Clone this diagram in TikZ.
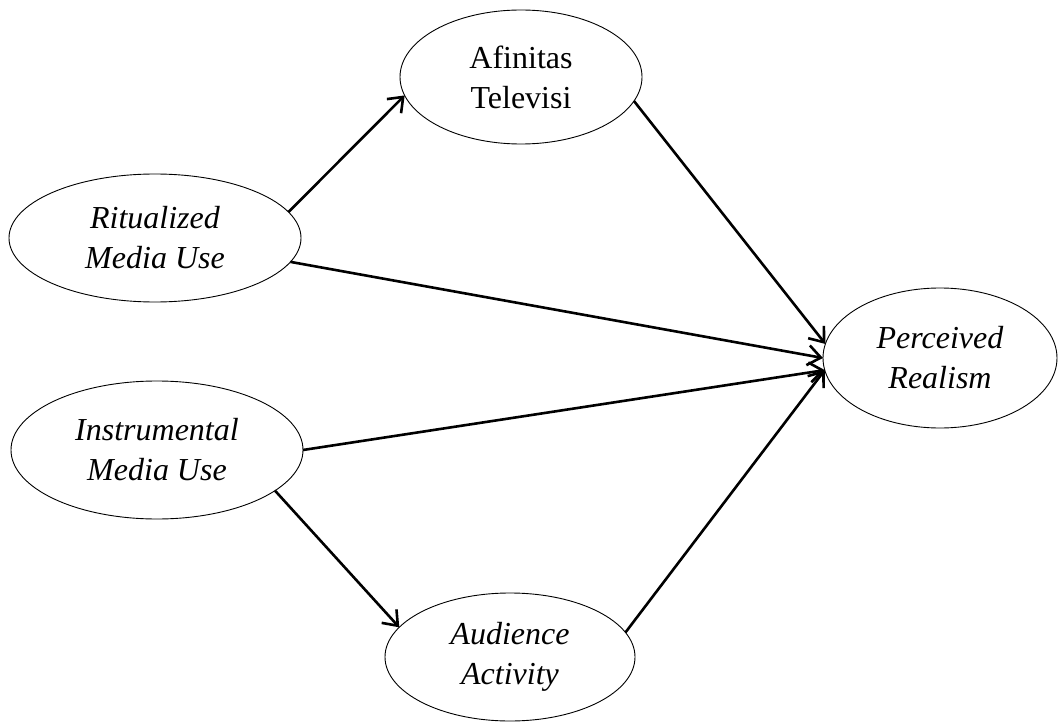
\documentclass[tikz,border=0pt]{standalone}
\usepackage{fontspec}
\setmainfont{Liberation Serif}
\usetikzlibrary{shapes.geometric,arrows.meta}
\begin{document}
\begin{tikzpicture}[x=1pt,y=-1pt,
  construct/.style={ellipse,draw,line width=0.9pt,inner sep=0pt,outer sep=0pt,
    align=center,font=\fontsize{32}{40}\selectfont},
  path/.style={line width=2.6pt,-{Straight Barb[length=13pt,width=20pt,line width=2.6pt]}}]
  \useasboundingbox (0,0) rectangle (1060,722);
  % latent constructs
  \node[construct,minimum width=292pt,minimum height=128pt] (rit) at (155,238) {\textit{Ritualized}\\\textit{Media Use}};
  \node[construct,minimum width=242pt,minimum height=134pt] (afi) at (521,77) {Afinitas\\Televisi};
  \node[construct,minimum width=234pt,minimum height=140pt] (per) at (940,358) {\textit{Perceived}\\\textit{Realism}};
  \node[construct,minimum width=292pt,minimum height=138pt] (ins) at (157,450) {\textit{Instrumental}\\\textit{Media Use}};
  \node[construct,minimum width=250pt,minimum height=128pt] (aud) at (510,657) {\textit{Audience}\\\textit{Activity}};
  % paths
  \draw[path] (rit.11.7) -- (afi.189.8);
  \draw[path] (afi.-12.3) -- (per.173.6);
  \draw[path] (rit.-10.1) -- (per.180);
  \draw[path] (ins.0) -- (per.186.8);
  \draw[path] (ins.-19.1) -- (aud.165);
  \draw[path] (aud.12.9) -- (per.186.8);
\end{tikzpicture}
\end{document}
